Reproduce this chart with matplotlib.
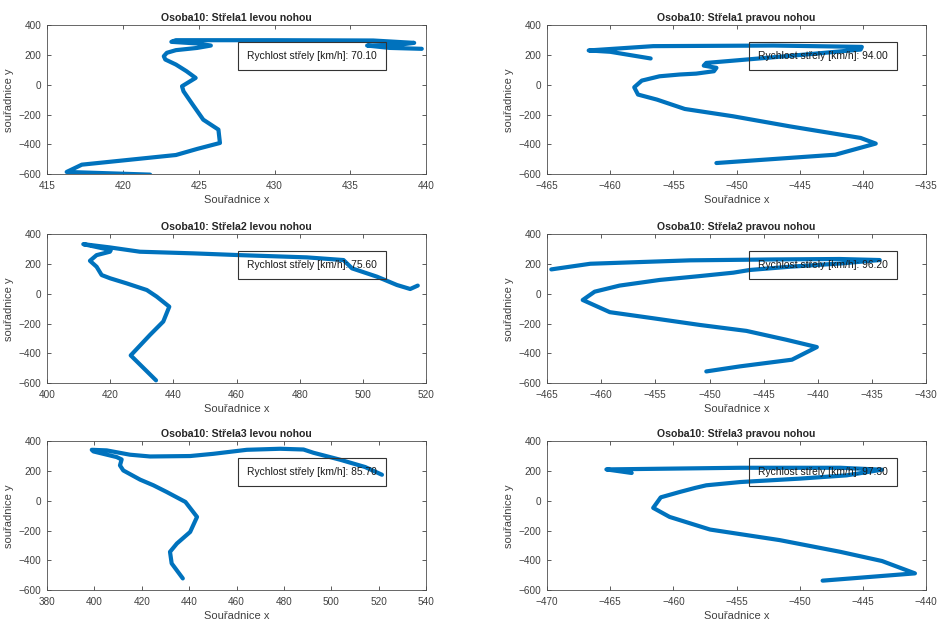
import matplotlib
matplotlib.use("Agg")
import matplotlib.pyplot as plt

plt.rcParams["font.family"] = ["Liberation Sans", "DejaVu Sans"]

# trajektorie nohy (souradnice x, y) pro jednotlive strely
x_l1 = [421.8, 416.3, 417.3, 423.5, 424.9, 426.4, 426.3, 425.3, 424.6, 424.0, 423.9, 424.8, 424.2,
        423.5, 422.8, 422.7, 422.9, 423.5, 424.9, 425.8, 424.9, 423.2, 423.5, 429.9, 436.5, 439.2,
        438.3, 436.1, 437.6, 439.7]
y_l1 = [-604, -586, -537, -472, -431, -391, -301, -234, -132, -43, -9, 47, 92,
        137, 171, 193, 216, 234, 249, 265, 279, 290, 301, 301, 299, 283,
        272, 265, 249, 243]

x_p1 = [-451.6, -442.2, -439.0, -440.2, -445.8, -450.3, -454.1, -456.3, -457.8, -458.1, -457.5, -456.1,
        -454.5, -453.2, -451.8, -451.6, -452.6, -452.4, -449.2, -444.5, -440.2, -440.1, -447.1, -456.6,
        -461.7, -460.0, -456.8]
y_p1 = [-526, -470, -395, -357, -279, -211, -162, -99, -65, -16, 29, 58,
        70, 76, 92, 115, 130, 148, 171, 205, 238, 256, 265, 261,
        232, 223, 178]

x_l2 = [434.5, 426.5, 432.6, 436.8, 438.7, 434.7, 431.6, 425.2, 420.0, 417.3, 415.7, 413.6, 415.7,
        419.9, 420.2, 411.5, 419.9, 429.4, 446.3, 461.1, 482.2, 493.8, 496.5, 504.4, 510.7, 514.9, 517.3]
y_l2 = [-582, -414, -276, -186, -86, -18, 26, 71, 105, 127, 183, 223, 261,
        284, 295, 335, 313, 284, 273, 261, 246, 228, 172, 116, 60, 33, 56]

x_p2 = [-450.3, -447.2, -442.4, -440.1, -442.9, -446.6, -450.9, -455.2, -459.2, -461.7, -460.6, -458.3,
        -454.6, -450.9, -447.8, -446.3, -442.6, -437.9, -434.3, -438.0, -444.1, -451.8, -461.0, -464.6]
y_p2 = [-522, -488, -443, -358, -309, -249, -209, -164, -123, -41, 15, 56,
        94, 120, 143, 161, 183, 205, 228, 235, 232, 226, 203, 165]

x_l3 = [437.3, 432.6, 431.9, 434.8, 440.4, 443.3, 438.4, 430.5, 424.9, 419.3, 412.2, 410.8, 411.5,
        409.4, 399.6, 398.9, 405.2, 415.0, 423.5, 440.4, 450.2, 464.3, 478.4, 488.2, 492.4, 503.7,
        514.2, 521.3]
y_l3 = [-522, -421, -343, -287, -209, -108, -7, 60, 105, 143, 205, 239, 279,
        295, 333, 344, 340, 311, 299, 302, 317, 344, 351, 346, 324, 277,
        228, 176]

x_p3 = [-448.2, -440.9, -443.5, -446.8, -451.6, -457.1, -460.3, -461.6, -461.0, -459.5, -458.3, -457.4,
        -454.7, -450.0, -446.3, -443.5, -446.8, -454.7, -465.3, -463.3]
y_p3 = [-537, -488, -405, -343, -264, -193, -108, -47, 24, 60, 87, 105,
        127, 150, 172, 210, 223, 223, 212, 188]

titles = ["Osoba10: Střela1 levou nohou", "Osoba10: Střela1 pravou nohou",
          "Osoba10: Střela2 levou nohou", "Osoba10: Střela2 pravou nohou",
          "Osoba10: Střela3 levou nohou", "Osoba10: Střela3 pravou nohou"]
rychlosti = [70.10, 94.00, 75.60, 96.20, 85.70, 97.30]
xlims = [(415, 440), (-465, -435), (400, 520), (-465, -430), (380, 540), (-470, -440)]

data = [(x_l1, y_l1), (x_p1, y_p1), (x_l2, y_l2), (x_p2, y_p2), (x_l3, y_l3), (x_p3, y_p3)]

fig = plt.figure(figsize=(9.39, 6.28), dpi=100)
lefts = [0.050, 0.5825]
bottoms = [0.7229, 0.3901, 0.0605]
w, h = 0.404, 0.2365

for i, (xs, ys) in enumerate(data):
    row, col = divmod(i, 2)
    ax = fig.add_axes([lefts[col], bottoms[row], w, h])
    ax.plot(xs, ys, color="#0072BD", linewidth=3, solid_joinstyle="round", solid_capstyle="round")
    ax.set_xlim(*xlims[i])
    ax.set_ylim(-600, 400)
    ax.set_yticks(range(-600, 401, 200))
    ax.set_title(titles[i], fontsize=7.6, fontweight="bold", color="#262626", pad=3)
    ax.set_xlabel("Souřadnice x", fontsize=8, color="#404040", labelpad=3)
    ax.set_ylabel("souřadnice y", fontsize=8, color="#404040", labelpad=3)
    ax.tick_params(direction="in", top=True, right=True, length=3, width=0.6,
                   labelsize=7.2, colors="#404040", pad=5)
    ax.tick_params(axis="y", pad=4)
    for s in ax.spines.values():
        s.set_color("#4d4d4d")
        s.set_linewidth(0.6)
    tx = 0.527 if col == 0 else 0.556
    ax.text(tx, 0.794, f"Rychlost střely [km/h]: {rychlosti[i]:.2f}", transform=ax.transAxes,
            ha="left", va="center", fontsize=7.4, color="#1a1a1a",
            bbox=dict(boxstyle="square,pad=0.9", facecolor="none", edgecolor="#333333", linewidth=0.8))

fig.savefig("out.png", dpi=100)
